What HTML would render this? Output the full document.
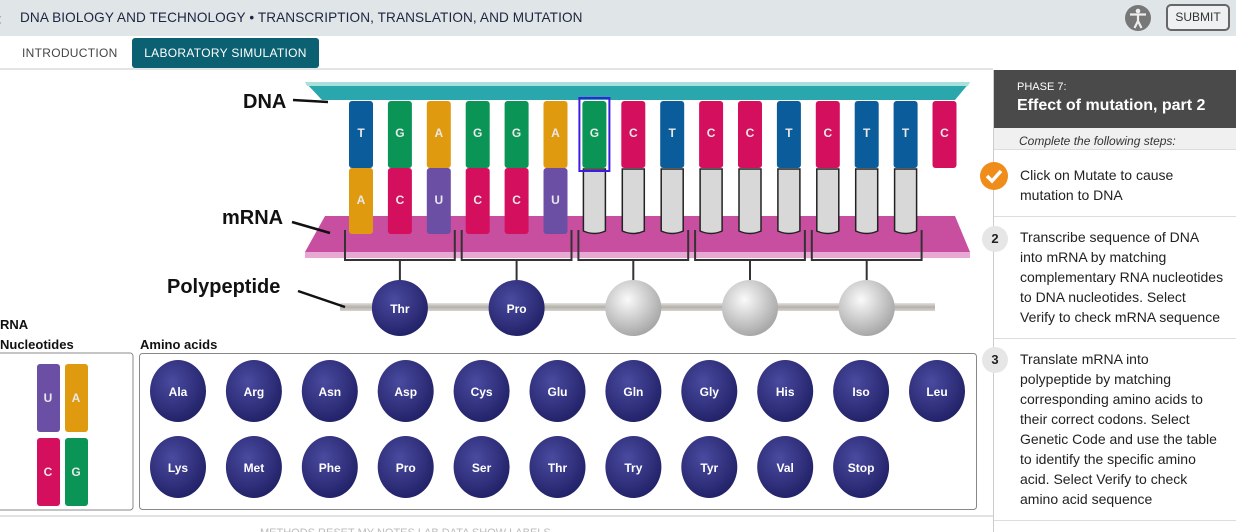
<!DOCTYPE html>
<html><head><meta charset="utf-8">
<style>
*{box-sizing:border-box;margin:0;padding:0}
body{width:1236px;height:532px;overflow:hidden;background:#fff;font-family:"Liberation Sans",sans-serif;position:relative}
.abs{position:absolute}
#topbar{left:0;top:0;width:1236px;height:36px;background:#e0e5e7}
#title{left:20px;top:10px;font-size:13.6px;color:#1d2540;letter-spacing:0.1px}
#submit{left:1166px;top:4px;width:64px;height:27px;border:2px solid #666;border-radius:5px;font-size:12px;color:#333;text-align:center;line-height:23px;background:#eef0f1}
#tabs-line{left:0;top:68px;width:993px;height:2px;background:#e2e4e5}
.tab{top:38px;height:30px;font-size:12px;line-height:30px;letter-spacing:.3px}
#panel{left:993px;top:70px;width:243px;height:462px;border-left:1px solid #ccc}
#phead{left:0;top:0;width:243px;height:58px;background:#4a4a4a;color:#fff}
#sub{left:0;top:58px;width:243px;height:22px;background:#f0f0f0;font-style:italic;font-size:12px;color:#333;padding:6px 0 0 25px;border-bottom:1px solid #ddd}
.step{left:26px;font-size:14px;line-height:20px;color:#222;white-space:nowrap}
.sep{left:0;width:243px;height:1px;background:#ddd}
.num{left:-12px;width:26px;height:26px;border-radius:13px;background:#e6e6e6;font-size:13px;font-weight:bold;text-align:center;line-height:26px;color:#222}
</style></head><body>
<div class="abs" id="topbar">
  <div class="abs" style="left:-4px;top:9px;font-size:18px;color:#999">‹</div>
  <div class="abs" id="title">DNA BIOLOGY AND TECHNOLOGY • TRANSCRIPTION, TRANSLATION, AND MUTATION</div>
  <svg class="abs" style="left:1124px;top:4px" width="28" height="28"><circle cx="14" cy="14" r="13" fill="#777"/><circle cx="14" cy="7" r="2.3" fill="#eee"/><path d="M6 10.5 L22 10.5 M14 10.5 L14 17 M14 17 L10.5 24 M14 17 L17.5 24" stroke="#eee" stroke-width="2.2" fill="none"/></svg>
  <div class="abs" id="submit">SUBMIT</div>
</div>
<div class="abs tab" style="left:22px;color:#444">INTRODUCTION</div>
<div class="abs tab" style="left:132px;width:187px;background:#0b6171;color:#fff;border-radius:3px;text-align:center">LABORATORY SIMULATION</div>
<div class="abs" id="tabs-line"></div>

<svg class="abs" id="sim" style="left:0;top:70px" width="993" height="462">
<defs>
<radialGradient id="navy" cx="40%" cy="35%" r="65%"><stop offset="0" stop-color="#4a4aa0"/><stop offset="1" stop-color="#23236a"/></radialGradient>
<radialGradient id="silver" cx="40%" cy="35%" r="65%"><stop offset="0" stop-color="#fafafa"/><stop offset="1" stop-color="#a8a8a8"/></radialGradient>
<linearGradient id="pep" x1="0" y1="0" x2="0" y2="1"><stop offset="0" stop-color="#e4e2de"/><stop offset="0.5" stop-color="#b4b0aa"/><stop offset="1" stop-color="#d6d4d0"/></linearGradient>
</defs>
<g>
<polygon points="305,12 970,12 955,30 322,30" fill="#2aa6ad"/>
<polygon points="305,12 970,12 968,16 307,16" fill="#a8e0dc"/>
</g>
<g>
<polygon points="325,146 955,146 970,182 305,182" fill="#c84fa0"/>
<polygon points="305,182 970,182 970,188 305,188" fill="#e8a8d4"/>
</g>
<g id="cols"></g>
<g id="brackets"></g>
<rect x="340" y="233" width="595" height="8" fill="url(#pep)"/>
<g id="pballs"></g>
<text x="243" y="38" font-size="20" font-weight="bold" fill="#111">DNA</text>
<line x1="293" y1="30" x2="328" y2="32" stroke="#111" stroke-width="2.5"/>
<text x="222" y="154" font-size="20" font-weight="bold" fill="#111">mRNA</text>
<line x1="292" y1="152" x2="330" y2="163" stroke="#111" stroke-width="2.5"/>
<text x="167" y="223" font-size="20" font-weight="bold" fill="#111">Polypeptide</text>
<line x1="298" y1="221" x2="345" y2="237" stroke="#111" stroke-width="2.5"/>
<text x="0" y="259" font-size="13" font-weight="bold" fill="#111">RNA</text>
<text x="0" y="279" font-size="13" font-weight="bold" fill="#111">Nucleotides</text>
<text x="140" y="279" font-size="13" font-weight="bold" fill="#111">Amino acids</text>
<rect x="-4" y="283" width="137" height="157" rx="3" fill="none" stroke="#888"/>
<rect x="139.5" y="283.5" width="837" height="156" rx="3" fill="none" stroke="#888"/>
<g id="nucs"></g>
<g id="aas"></g>
<line x1="0" y1="446" x2="993" y2="446" stroke="#e2e2e2" stroke-width="2"/>
<text x="260" y="466" font-size="11" fill="#bbb">METHODS      RESET      MY NOTES      LAB DATA      SHOW LABELS</text>
</svg>

<div class="abs" id="panel">
  <div class="abs" id="phead">
    <div class="abs" style="left:23px;top:11px;font-size:11px">PHASE 7:</div>
    <div class="abs" style="left:23px;top:27px;font-size:16px;font-weight:bold">Effect of mutation, part 2</div>
  </div>
  <div class="abs" id="sub">Complete the following steps:</div>
  <svg class="abs" style="left:-15px;top:91px" width="30" height="30"><circle cx="15" cy="15" r="14" fill="#f08c1a"/><path d="M8 15 L13 20 L22 10" stroke="#fff" stroke-width="3.5" fill="none"/></svg>
  <div class="abs step" style="top:95px">Click on Mutate to cause<br>mutation to DNA</div>
  <div class="abs sep" style="top:146px"></div>
  <div class="abs num" style="top:156px">2</div>
  <div class="abs step" style="top:157px">Transcribe sequence of DNA<br>into mRNA by matching<br>complementary RNA nucleotides<br>to DNA nucleotides. Select<br>Verify to check mRNA sequence</div>
  <div class="abs sep" style="top:268px"></div>
  <div class="abs num" style="top:277px">3</div>
  <div class="abs step" style="top:279px">Translate mRNA into<br>polypeptide by matching<br>corresponding amino acids to<br>their correct codons. Select<br>Genetic Code and use the table<br>to identify the specific amino<br>acid. Select Verify to check<br>amino acid sequence</div>
  <div class="abs sep" style="top:450px"></div>
</div>

<script>
const dnaBases = ["T","G","A","G","G","A","G","C","T","C","C","T","C","T","T","C"];
const mrnaBases = ["A","C","U","C","C","U","","","","","","","","","",null];
const polyChain = ["Thr","Pro","","",""];
const aminoRow1 = ["Ala","Arg","Asn","Asp","Cys","Glu","Gln","Gly","His","Iso","Leu"];
const aminoRow2 = ["Lys","Met","Phe","Pro","Ser","Thr","Try","Tyr","Val","Stop"];
const colors = {T:"#0b5c9a",A:"#e09a10",G:"#0a9455",C:"#d4105e",U:"#6a4fa5"};
const NS="http://www.w3.org/2000/svg";
function mk(tag,attrs,parent){const e=document.createElementNS(NS,tag);for(const k in attrs)e.setAttribute(k,attrs[k]);parent.appendChild(e);return e;}
const colX=i=>361+i*38.9;
const cols=document.getElementById('cols');
dnaBases.forEach((b,i)=>{
  const x=colX(i);
  const g=mk('g',{},cols);
  
  
  mk('rect',{x:x-12,y:31,width:24,height:67,rx:3,fill:colors[b]},g);
  const t=mk('text',{x:x,y:67,'text-anchor':'middle','font-size':12,'font-weight':'bold',fill:'#e8e8e8'},g);t.textContent=b;
  const m=mrnaBases[i];
  if(m===null)return;
  const g2=mk('g',{},cols);
  
  
  if(m){mk('rect',{x:x-12,y:98,width:24,height:66,rx:3,fill:colors[m]},g2);
    const t2=mk('text',{x:x,y:134,'text-anchor':'middle','font-size':12,'font-weight':'bold',fill:'#e8e8e8'},g2);t2.textContent=m;}
  else mk('path',{d:`M${x-11} 99 L${x+11} 99 L${x+11} 161 Q${x} 166 ${x-11} 161 Z`,fill:'#d8d8d8',stroke:'#222','stroke-width':1.5},g2);
});
mk('rect',{x:colX(6)-15,y:28,width:30,height:73,fill:'none',stroke:'#3a1fe0','stroke-width':2},cols);
const br=document.getElementById('brackets');
for(let k=0;k<5;k++){
  const x1=colX(k*3)-16,x2=colX(k*3+2)+16,xc=colX(k*3+1);
  mk('path',{d:`M${x1} 160 L${x1} 190 L${x2} 190 L${x2} 160 M${xc} 190 L${xc} 212`,stroke:'#333','stroke-width':2,fill:'none'},br);
}
const pb=document.getElementById('pballs');
polyChain.forEach((a,k)=>{
  const x=colX(k*3+1);
  const g=mk('g',{},pb);
  
  
  mk('circle',{cx:x,cy:238,r:28,fill:a?'url(#navy)':'url(#silver)'},g);
  if(a){const t=mk('text',{x:x,y:243,'text-anchor':'middle','font-size':12,'font-weight':'bold',fill:'#fff'},g);t.textContent=a;}
});
const nucs=document.getElementById('nucs');
[["U",48,294],["A",76,294],["C",48,368],["G",76,368]].forEach(([b,x,y])=>{
  const g=mk('g',{},nucs);
  
  
  mk('rect',{x:x-11,y:y,width:23,height:68,rx:3,fill:colors[b]},g);
  const t=mk('text',{x:x,y:y+38,'text-anchor':'middle','font-size':12,'font-weight':'bold',fill:'#e8e8e8'},g);t.textContent=b;
});
const aas=document.getElementById('aas');
[[aminoRow1,321],[aminoRow2,397]].forEach(([row,cy])=>row.forEach((a,i)=>{
  const x=178+i*75.9;
  const g=mk('g',{},aas);
  
  
  mk('ellipse',{cx:x,cy:cy,rx:28,ry:31,fill:'url(#navy)'},g);
  const t=mk('text',{x:x,y:cy+5,'text-anchor':'middle','font-size':12,'font-weight':'bold',fill:'#fff'},g);t.textContent=a;
}));
</script>
</body></html>
